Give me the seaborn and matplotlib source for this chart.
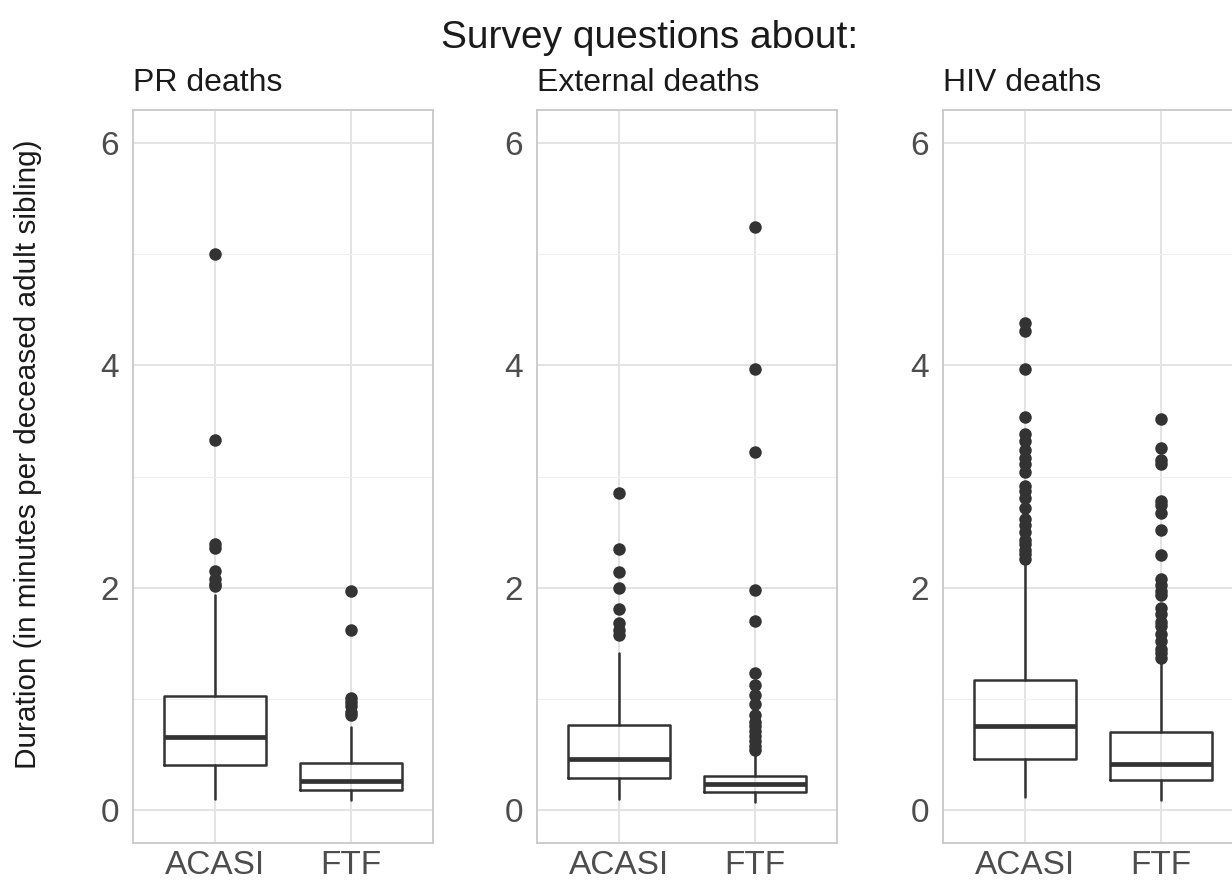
import matplotlib
matplotlib.use("Agg")
import matplotlib.pyplot as plt
import seaborn as sns

# Data (minutes per deceased adult sibling)
groups = ["ACASI", "FTF"]
panels = ["PR deaths", "External deaths", "HIV deaths"]

# Box statistics per panel: [ACASI, FTF]
whisker_lo = [[0.10, 0.09], [0.10, 0.07], [0.11, 0.09]]
q1_vals = [[0.40, 0.175], [0.284, 0.157], [0.46, 0.27]]
medians = [[0.65, 0.26], [0.454, 0.227], [0.75, 0.415]]
q3_vals = [[1.02, 0.42], [0.76, 0.306], [1.166, 0.70]]
whisker_hi = [[1.93, 0.74], [1.415, 0.50], [2.24, 1.32]]

# Outliers per panel: [ACASI list, FTF list]
outliers = [
    [
        [5.00, 3.33, 2.39, 2.36, 2.15, 2.08, 2.03, 2.01],
        [1.97, 1.62, 1.01, 0.97, 0.93, 0.88, 0.85],
    ],
    [
        [2.85, 2.35, 2.14, 2.00, 1.81, 1.68, 1.62, 1.57],
        [5.25, 3.97, 3.22, 1.98, 1.70, 1.23, 1.12, 1.03, 0.95, 0.85,
         0.79, 0.75, 0.71, 0.66, 0.62, 0.57, 0.54],
    ],
    [
        [4.38, 4.31, 3.97, 3.54, 3.38, 3.32, 3.24, 3.17, 3.11, 3.04, 2.91,
         2.87, 2.81, 2.72, 2.62, 2.56, 2.50, 2.43, 2.39, 2.34, 2.30, 2.26],
        [3.52, 3.26, 3.15, 3.11, 2.78, 2.74, 2.67, 2.52, 2.29, 2.08, 2.02,
         1.97, 1.93, 1.82, 1.76, 1.69, 1.65, 1.58, 1.52, 1.45, 1.41, 1.37],
    ],
]

# Style
sns.set_style("whitegrid")
plt.rcParams["font.family"] = ["Liberation Sans", "DejaVu Sans"]

fig = plt.figure(figsize = (12.32, 8.83), dpi = 100)

line_col = "#333333"
lefts = [133, 537, 943]

for i, panel in enumerate(panels):
    ax = fig.add_axes([lefts[i] / 1232, 40 / 883, 300 / 1232, 733 / 883])

    # Boxes from precomputed stats
    stats = []
    for j, g in enumerate(groups):
        stats.append({
            "label": g,
            "whislo": whisker_lo[i][j],
            "q1": q1_vals[i][j],
            "med": medians[i][j],
            "q3": q3_vals[i][j],
            "whishi": whisker_hi[i][j],
            "fliers": [],
        })
    ax.bxp(
        stats,
        positions = [0, 1],
        widths = 0.75,
        showcaps = False,
        showfliers = False,
        boxprops = dict(color = line_col, linewidth = 1.8),
        whiskerprops = dict(color = line_col, linewidth = 1.8),
        medianprops = dict(color = line_col, linewidth = 3.4),
        zorder = 3,
    )

    # Outliers
    xs, ys = [], []
    for j, g in enumerate(groups):
        xs += [g] * len(outliers[i][j])
        ys += outliers[i][j]
    sns.stripplot(
        x = xs,
        y = ys,
        order = groups,
        jitter = False,
        color = line_col,
        size = 9,
        linewidth = 0,
        ax = ax,
        zorder = 4,
    )

    # Axes
    ax.set_xlim(-0.6, 1.6)
    ax.set_ylim(-0.3, 6.3)
    ax.set_xticks([0, 1])
    ax.set_xticklabels(groups)
    ax.set_yticks([0, 2, 4, 6])
    ax.set_yticks([1, 3, 5], minor = True)
    ax.set_xlabel("")
    ax.set_ylabel("")

    # Design (theme_light look)
    ax.grid(which = "major", axis = "both", color = "#E3E3E3", linewidth = 1.4)
    ax.grid(which = "minor", axis = "y", color = "#EFEFEF", linewidth = 0.8)
    ax.set_axisbelow(True)
    for s in ax.spines.values():
        s.set_color("#C8C8C8")
        s.set_linewidth(1.3)
    ax.tick_params(axis = "both", which = "major", width = 1.0, color = "#B3B3B3",
                   labelsize = 24, labelcolor = "#4D4D4D")
    ax.tick_params(axis = "y", which = "major", length = 5, pad = 5)
    ax.tick_params(axis = "x", which = "major", length = 4, pad = 1)
    ax.tick_params(axis = "y", which = "minor", length = 0)

    # Facet title
    ax.set_title(panel, loc = "left", fontsize = 23, color = "#1A1A1A", pad = 14)

# Overall title and y label
fig.text(0.527, 0.957, "Survey questions about:", ha = "center", va = "center",
         fontsize = 28, color = "#1A1A1A")
fig.text(0.023, 0.485, "Duration (in minutes per deceased adult sibling)",
         rotation = 90, ha = "center", va = "center", fontsize = 21.4, color = "#1A1A1A")

fig.savefig("out.png", dpi = 100)
plt.close(fig)
